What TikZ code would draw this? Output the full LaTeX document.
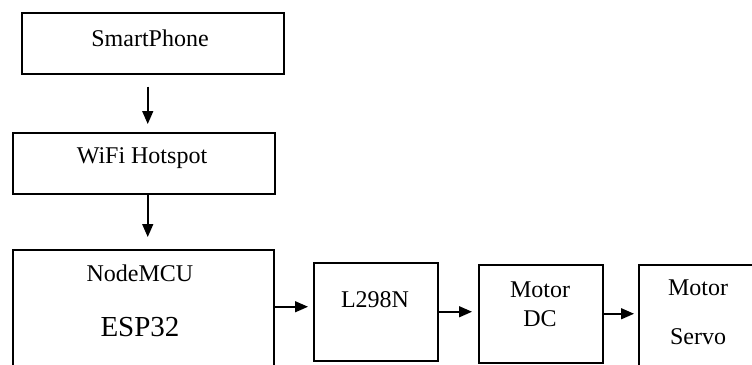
\documentclass[tikz,border=0pt]{standalone}
\usepackage{fontspec}
\setmainfont{Liberation Serif}
\usetikzlibrary{arrows.meta}
\begin{document}
\begin{tikzpicture}[x=1pt,y=-1pt,
  box/.style={draw=black, line width=1.5pt, rectangle, inner sep=0pt, anchor=north west},
  lbl/.style={font=\fontsize{24}{26}\selectfont, inner sep=0pt},
  big/.style={font=\fontsize{29}{31}\selectfont, inner sep=0pt},
  arr/.style={line width=1.5pt, -{Triangle[length=13pt,width=11pt]}}]
\useasboundingbox (0,0) rectangle (752,364);
\clip (0,0) rectangle (752,364);
\node[box, minimum width=262, minimum height=61] (sp) at (21,12) {};
\node[box, minimum width=262, minimum height=61] (wifi) at (12,132) {};
\node[box, minimum width=261, minimum height=140] (mcu) at (12,249) {};
\node[box, minimum width=124, minimum height=98] (l298) at (313,262) {};
\node[box, minimum width=124, minimum height=98] (dc) at (478,264) {};
\node[box, minimum width=140, minimum height=130] (servo) at (638,264) {};
\node[lbl] (tsp) at (150,38) {SmartPhone};
\node[lbl] (twifi) at (142,158) {WiFi Hotspot};
\node[lbl] (tmcu) at (140,273) {NodeMCU};
\node[big] (tesp) at (140,327) {ESP32};
\node[lbl] (tl298) at (375,300) {L298N};
\node[lbl] (tdc1) at (540,290) {Motor};
\node[lbl] (tdc2) at (540,319) {DC};
\node[lbl] (tsv1) at (698,288) {Motor};
\node[lbl] (tsv2) at (698,337) {Servo};
\draw[arr, shorten <=12pt, shorten >=8pt] ([xshift=-5pt]sp.south) -- ([xshift=4pt]wifi.north);
\draw[arr, shorten >=12pt] ([xshift=4pt]wifi.south) -- ([xshift=4pt]wifi.south |- mcu.north);
\draw[arr, shorten >=5pt] ([yshift=5pt]l298.west -| mcu.east) -- ([yshift=5pt]l298.west);
\draw[arr, shorten >=6pt] (l298.east) -- (l298.east -| dc.west);
\draw[arr, shorten >=4pt] (dc.east) -- (dc.east -| servo.west);
\end{tikzpicture}
\end{document}
